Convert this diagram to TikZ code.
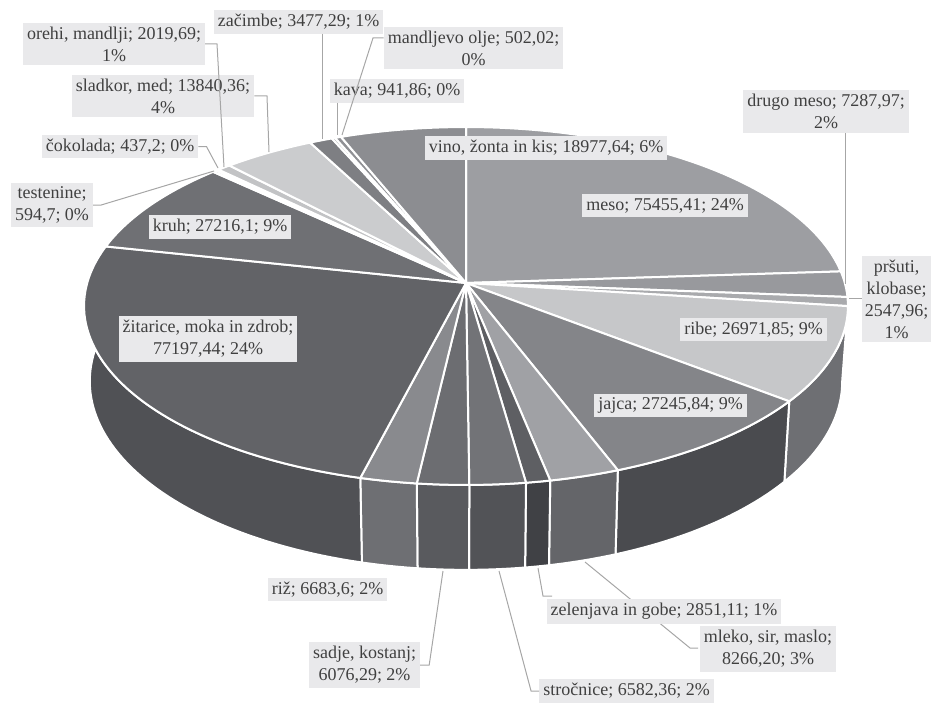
\documentclass[tikz,border=0pt]{standalone}
\usepackage{fontspec}
\setmainfont{Liberation Serif}
\definecolor{cMeso}{HTML}{9D9EA2}
\definecolor{cDrugo}{HTML}{98999D}
\definecolor{cPrsuti}{HTML}{A9AAAD}
\definecolor{cRibe}{HTML}{C6C7C9}
\definecolor{cJajca}{HTML}{848589}
\definecolor{cMleko}{HTML}{A0A1A5}
\definecolor{cZel}{HTML}{5E5F63}
\definecolor{cStro}{HTML}{727377}
\definecolor{cSadje}{HTML}{6C6D71}
\definecolor{cRiz}{HTML}{898A8E}
\definecolor{cZit}{HTML}{626367}
\definecolor{cKruh}{HTML}{6F7074}
\definecolor{cTest}{HTML}{B4B5B8}
\definecolor{cCok}{HTML}{A8A9AC}
\definecolor{cOrehi}{HTML}{C2C3C5}
\definecolor{cSlad}{HTML}{CBCCCE}
\definecolor{cZac}{HTML}{7E7F83}
\definecolor{cMand}{HTML}{A3A4A7}
\definecolor{cKava}{HTML}{909195}
\definecolor{cVino}{HTML}{8C8D91}
\definecolor{sRibe}{HTML}{6E6F73}
\definecolor{sJajca}{HTML}{4A4B4F}
\definecolor{sMleko}{HTML}{646569}
\definecolor{sZel}{HTML}{404145}
\definecolor{sStro}{HTML}{525357}
\definecolor{sSadje}{HTML}{595A5E}
\definecolor{sRiz}{HTML}{6E6F73}
\definecolor{sZit}{HTML}{505155}
\definecolor{labelbg}{HTML}{E9E9EB}
\definecolor{labeltext}{HTML}{404040}
\definecolor{leadcol}{HTML}{A6A6A6}
\newcommand\topslice[3]{\filldraw[fill=#3,sepline] (C) -- plot[domain=#1:#2,samples=60] ({piex(\x)},{piey(\x)}) -- cycle;}
\newcommand\sideslice[3]{\filldraw[fill=#3,sepline] plot[domain=#1:#2,samples=60] ({piex(\x)},{piey(\x)}) -- plot[domain=#1:#2,samples=60] ({botx((#1)+(#2)-\x)},{boty((#1)+(#2)-\x)}) -- cycle;}
\begin{document}
\begin{tikzpicture}[x=1pt,y=-1pt,
  declare function={
    piex(\x)=466+378.8*cos(\x)/(1+0.1285*sin(\x));
    piey(\x)=283-176*sin(\x)/(1+0.1285*sin(\x));
    botx(\x)=466+0.985*378.8*cos(\x)/(1+0.1285*sin(\x));
    boty(\x)=piey(\x)+74/(1+0.1285*sin(\x));
  },
  sepline/.style={draw=white,line width=2pt,line join=round},
  lbl/.style={fill=labelbg,text=labeltext,font=\fontsize{18}{22}\selectfont,inner xsep=4pt,inner ysep=4pt,align=center},
  leader/.style={draw=leadcol,line width=1pt}]
\useasboundingbox (0,0) rectangle (931,706);
\coordinate (C) at (466,283);
% side faces
\sideslice{-38.23}{-7.38}{sRibe}
\sideslice{-69.35}{-38.23}{sJajca}
\sideslice{-78.79}{-69.35}{sMleko}
\sideslice{-82.05}{-78.79}{sZel}
\sideslice{-89.57}{-82.05}{sStro}
\sideslice{-96.51}{-89.57}{sSadje}
\sideslice{-104.14}{-96.51}{sRiz}
\sideslice{-187.38}{-104.14}{sZit}
% top faces
\topslice{3.81}{90}{cMeso}
\topslice{-4.51}{3.81}{cDrugo}
\topslice{-7.42}{-4.51}{cPrsuti}
\topslice{-38.23}{-7.42}{cRibe}
\topslice{-69.35}{-38.23}{cJajca}
\topslice{-78.79}{-69.35}{cMleko}
\topslice{-82.05}{-78.79}{cZel}
\topslice{-89.57}{-82.05}{cStro}
\topslice{-96.51}{-89.57}{cSadje}
\topslice{-104.14}{-96.51}{cRiz}
\topslice{-192.32}{-104.14}{cZit}
\topslice{-223.41}{-192.32}{cKruh}
\topslice{-224.09}{-223.41}{cTest}
\topslice{-224.59}{-224.09}{cCok}
\topslice{-226.89}{-224.59}{cOrehi}
\topslice{-242.70}{-226.89}{cSlad}
\topslice{-246.67}{-242.70}{cZac}
\topslice{-247.25}{-246.67}{cMand}
\topslice{-248.32}{-247.25}{cKava}
\topslice{-270}{-248.32}{cVino}
% leader anchor points on the pie
\coordinate (orehiP) at (224,167);
\coordinate (sladP) at (269,152);
\coordinate (cokP) at (218,168);
\coordinate (testP) at (214,171);
\coordinate (zacP) at (322,139);
\coordinate (mandP) at (342,135);
\coordinate (kavaP) at (337,135);
\coordinate (drugoP) at (845,284);
\coordinate (prsP) at (849,298);
\coordinate (sadjeP) at (443,571);
\coordinate (stroP) at (499,571);
\coordinate (zelP) at (538,568);
\coordinate (zelK) at (543,596);
\coordinate (zelE) at (552,596);
\coordinate (mlekoP) at (585,562);
\coordinate (mlekoK) at (690,648);
% labels
\node[lbl] (orehi) at (114,44) {orehi, mandlji; 2019,69;\\1\%};
\node[lbl] (slad) at (163,96) {sladkor, med; 13840,36;\\4\%};
\node[lbl] (cok) at (120,146.5) {čokolada; 437,2; 0\%};
\node[lbl] (test) at (52,205) {testenine;\\594,7; 0\%};
\node[lbl] (zac) at (298.5,22) {začimbe; 3477,29; 1\%};
\node[lbl] (mand) at (473.5,48) {mandljevo olje; 502,02;\\0\%};
\node[lbl] (kava) at (397,91) {kava; 941,86; 0\%};
\node[lbl] (vino) at (546,148) {vino, žonta in kis; 18977,64; 6\%};
\node[lbl] (drugo) at (826,111.5) {drugo meso; 7287,97;\\2\%};
\node[lbl,inner xsep=3pt] (prs) at (896.5,299) {pršuti,\\klobase;\\2547,96;\\1\%};
\node[lbl] (meso) at (665,205.5) {meso; 75455,41; 24\%};
\node[lbl] (ribe) at (753.5,329.5) {ribe; 26971,85; 9\%};
\node[lbl] (jajca) at (670.5,405.5) {jajca; 27245,84; 9\%};
\node[lbl] (kruh) at (220,227) {kruh; 27216,1; 9\%};
\node[lbl] (zit) at (208,339) {žitarice, moka in zdrob;\\77197,44; 24\%};
\node[lbl] (riz) at (327.5,589.5) {riž; 6683,6; 2\%};
% leaders
\draw[leader] (orehi.east |- 0,44) -- (217,44) -- (orehiP);
\draw[leader] (slad.east |- 0,96) -- (267,96) -- (sladP);
\draw[leader] (cok.east) -- ++(8,0) -- (cokP);
\draw[leader] (test.east) -- ++(8,0) -- (testP);
\draw[leader] (zacP |- zac.south) -- (zacP);
\draw[leader] (mand.west |- 0,38) -- (373,38) -- (mandP);
\draw[leader] (kavaP |- kava.south) -- (kavaP);
\draw[leader] (drugoP |- drugo.south) -- (drugoP);
\draw[leader] (prsP) -- (prsP -| prs.west);
\draw[leader] (mlekoP) -- (mlekoK) -- (mlekoK -| 698,0);
\draw[leader] (zelP) -- (zelK) -- (zelE);
\node[lbl] (sadje) at (364.5,665) {sadje, kostanj;\\6076,29; 2\%};
\node[lbl] (stro) at (626.5,691) {stročnice; 6582,36; 2\%};
\node[lbl] (zel) at (664,611.5) {zelenjava in gobe; 2851,11; 1\%};
\node[lbl] (mleko) at (768,649) {mleko, sir, maslo;\\8266,20; 3\%};
\draw[leader] (sadje.east) -- ++(9,0) -- (sadjeP);
\draw[leader] (stro.west) -- ++(-8,0) -- (stroP);
\end{tikzpicture}
\end{document}
